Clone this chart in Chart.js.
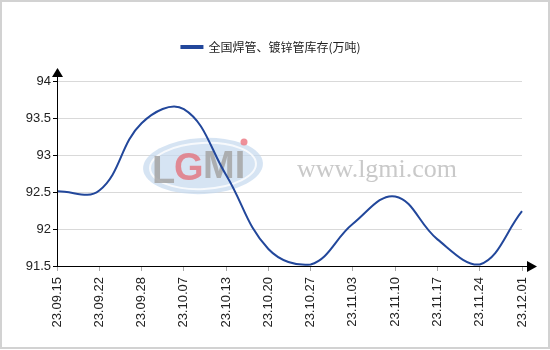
<!DOCTYPE html>
<html>
<head>
<meta charset="utf-8">
<script src="https://cdn.jsdelivr.net/npm/chart.js@4/dist/chart.umd.min.js"></script>
<style>
  html, body { margin: 0; padding: 0; background: #fff; }
  canvas { display: block; }
</style>
</head>
<body>
<canvas id="chart" width="550" height="350"></canvas>
<script>
const dates = [
  "23.09.15", "23.09.22", "23.09.28", "23.10.07", "23.10.13", "23.10.20",
  "23.10.27", "23.11.03", "23.11.10", "23.11.17", "23.11.24", "23.12.01",
];
const stock = [92.51, 92.52, 93.43, 93.62, 92.73, 91.73, 91.52, 92.07, 92.44, 91.86, 91.52, 92.24];
const yTicks = [91.5, 92, 92.5, 93, 93.5, 94];
const seriesName = "全国焊管、镀锌管库存(万吨)";

const lineColor = "#22479b";

// axes with arrows, frame and watermark
const decor = {
  id: "decor",
  afterInit(chart) {
    const lg = chart.legend;
    if (lg && !lg._wrapped) {
      const fit = lg.fit.bind(lg);
      lg.fit = function () { fit(); this.height = 50; };
      const draw = lg.draw.bind(lg);
      lg.draw = function () {
        this.ctx.save();
        this.ctx.translate(10, 0);
        draw();
        this.ctx.restore();
      };
      lg._wrapped = true;
    }
  },
  beforeDatasetsDraw(chart) {
    const ctx = chart.ctx;
    ctx.save();
    // logo
    ctx.fillStyle = "rgba(196,216,238,0.7)";
    ctx.beginPath();
    ctx.ellipse(203, 166, 60, 28, -0.05, 0, Math.PI * 2);
    ctx.fill();
    ctx.strokeStyle = "rgba(255,255,255,0.8)";
    ctx.lineWidth = 2;
    ctx.beginPath();
    ctx.ellipse(203, 166, 53, 23, -0.05, 0, Math.PI * 2);
    ctx.stroke();
    ctx.font = "bold 38px 'Liberation Sans'";
    ctx.textBaseline = "alphabetic";
    ctx.textAlign = "left";
    ctx.fillStyle = "rgba(165,165,165,0.85)";
    ctx.fillText("L", 152, 183);
    ctx.fillStyle = "rgba(226,115,125,0.8)";
    ctx.fillText("G", 174, 180);
    ctx.fillStyle = "rgba(165,165,165,0.85)";
    ctx.fillText("MI", 203, 178);
    ctx.fillStyle = "rgba(236,125,135,0.85)";
    ctx.beginPath();
    ctx.arc(244, 142, 3.5, 0, Math.PI * 2);
    ctx.fill();
    // site text
    ctx.font = "26px 'Liberation Serif'";
    ctx.fillStyle = "rgba(195,195,195,0.9)";
    ctx.fillText("www.lgmi.com", 297, 177);
    ctx.restore();
  },
  afterDraw(chart) {
    const ctx = chart.ctx;
    const a = chart.chartArea;
    ctx.save();
    ctx.strokeStyle = "#000";
    ctx.fillStyle = "#000";
    ctx.lineWidth = 1;
    // y axis
    ctx.beginPath();
    ctx.moveTo(a.left + 0.5, a.bottom);
    ctx.lineTo(a.left + 0.5, a.top - 8);
    ctx.stroke();
    ctx.beginPath();
    ctx.moveTo(a.left + 0.5, a.top - 13);
    ctx.lineTo(a.left - 5, a.top - 4);
    ctx.lineTo(a.left + 6, a.top - 4);
    ctx.closePath();
    ctx.fill();
    // x axis
    ctx.beginPath();
    ctx.moveTo(a.left, a.bottom + 0.5);
    ctx.lineTo(a.right + 6, a.bottom + 0.5);
    ctx.stroke();
    ctx.beginPath();
    ctx.moveTo(a.right + 15, a.bottom + 0.5);
    ctx.lineTo(a.right + 5, a.bottom - 5);
    ctx.lineTo(a.right + 5, a.bottom + 6);
    ctx.closePath();
    ctx.fill();
    // frame
    ctx.strokeStyle = "#d2d2d2";
    ctx.lineWidth = 2;
    ctx.strokeRect(1, 1, 548, 347);
    ctx.restore();
  },
};

new Chart(document.getElementById("chart"), {
  type: "line",
  data: {
    labels: dates,
    datasets: [{
      label: seriesName,
      data: stock,
      borderColor: lineColor,
      backgroundColor: lineColor,
      borderWidth: 2,
      pointRadius: 0,
      tension: 0.4,
    }],
  },
  options: {
    responsive: false,
    animation: false,
    devicePixelRatio: 1,
    layout: { padding: { top: 31, left: 0, right: 28, bottom: 0 } },
    plugins: {
      legend: {
        position: "top",
        labels: {
          boxWidth: 21,
          boxHeight: 2,
          padding: 10,
          color: "#222",
          font: { family: "'Noto Sans CJK SC'", size: 12 },
        },
      },
      tooltip: { enabled: false },
    },
    scales: {
      x: {
        offset: false,
        border: { display: false },
        grid: { drawOnChartArea: false, drawTicks: true, tickLength: 5, tickColor: "#aaa" },
        ticks: {
          minRotation: 90,
          maxRotation: 90,
          autoSkip: false,
          padding: 6,
          color: "#222",
          font: { family: "'Liberation Sans'", size: 13 },
        },
        afterFit(s) { s.height = 84; },
      },
      y: {
        min: 91.5,
        max: 94,
        border: { display: false },
        afterBuildTicks(s) { s.ticks = yTicks.map(v => ({ value: v })); },
        grid: { color: "#d9d9d9", tickLength: 4, tickColor: "#000" },
        ticks: {
          padding: 2,
          color: "#222",
          font: { family: "'Liberation Sans'", size: 13 },
          callback: v => String(v),
        },
        afterFit(s) { s.width = 57; },
      },
    },
  },
  plugins: [decor],
});
</script>
</body>
</html>
